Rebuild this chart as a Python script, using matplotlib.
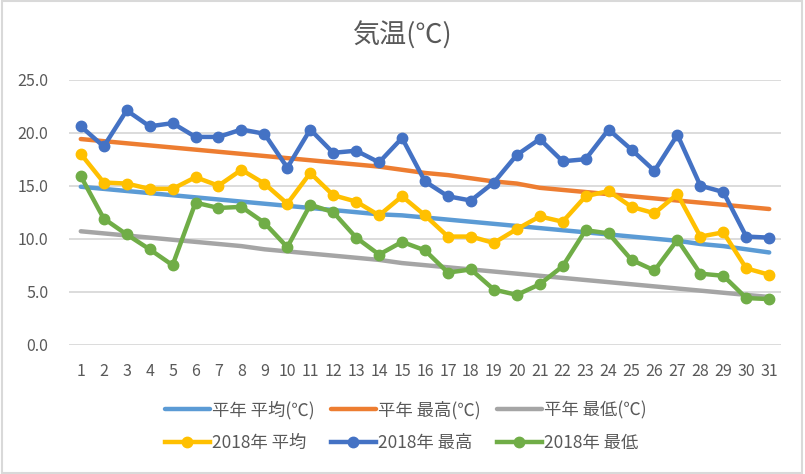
import matplotlib
matplotlib.use("Agg")
import matplotlib.pyplot as plt
from matplotlib.patches import Rectangle

plt.rcParams["font.family"] = ["Noto Sans CJK JP", "DejaVu Sans"]

days = list(range(1, 32))

normal_avg = [14.9, 14.7, 14.5, 14.3, 14.1, 13.9, 13.7, 13.5, 13.3, 13.1, 12.9, 12.7,
              12.5, 12.3, 12.2, 12.0, 11.8, 11.6, 11.4, 11.2, 11.0, 10.8, 10.6, 10.4,
              10.2, 10.0, 9.8, 9.5, 9.3, 9.0, 8.7]
normal_max = [19.4, 19.2, 19.0, 18.8, 18.6, 18.4, 18.2, 18.0, 17.8, 17.6, 17.4, 17.2,
              17.0, 16.8, 16.5, 16.2, 16.0, 15.7, 15.4, 15.2, 14.8, 14.6, 14.4, 14.2,
              14.0, 13.8, 13.6, 13.4, 13.2, 13.0, 12.8]
normal_min = [10.7, 10.5, 10.3, 10.1, 9.9, 9.7, 9.5, 9.3, 9.0, 8.8, 8.6, 8.4,
              8.2, 8.0, 7.7, 7.5, 7.3, 7.1, 6.9, 6.7, 6.5, 6.3, 6.1, 5.9,
              5.7, 5.5, 5.3, 5.1, 4.9, 4.7, 4.5]
avg_2018 = [18.0, 15.3, 15.2, 14.7, 14.7, 15.8, 15.0, 16.5, 15.2, 13.3, 16.2, 14.1,
            13.5, 12.2, 14.0, 12.2, 10.2, 10.2, 9.6, 10.9, 12.1, 11.6, 14.0, 14.5,
            13.0, 12.4, 14.2, 10.2, 10.6, 7.2, 6.6]
max_2018 = [20.6, 18.7, 22.1, 20.6, 20.9, 19.6, 19.6, 20.3, 19.9, 16.7, 20.3, 18.1,
            18.3, 17.2, 19.5, 15.4, 14.0, 13.6, 15.3, 17.9, 19.4, 17.3, 17.5, 20.3,
            18.4, 16.4, 19.8, 15.0, 14.4, 10.2, 10.1]
min_2018 = [15.9, 11.9, 10.4, 9.0, 7.5, 13.4, 12.9, 13.0, 11.5, 9.2, 13.2, 12.5,
            10.1, 8.5, 9.7, 8.9, 6.8, 7.1, 5.2, 4.7, 5.7, 7.4, 10.8, 10.5,
            8.0, 7.0, 9.9, 6.7, 6.5, 4.4, 4.3]

fig = plt.figure(figsize=(8.05, 4.74), dpi=100)
ax = fig.add_axes([0.0861, 0.2728, 0.8837, 0.5591])
txt = "#595959"

l1, = ax.plot(days, normal_avg, color="#5B9BD5", lw=3.2, solid_capstyle="round", label="平年 平均(℃)")
l2, = ax.plot(days, normal_max, color="#ED7D31", lw=3.2, solid_capstyle="round", label="平年 最高(℃)")
l3, = ax.plot(days, normal_min, color="#A5A5A5", lw=3.2, solid_capstyle="round", label="平年 最低(℃)")
l4, = ax.plot(days, avg_2018, color="#FFC000", lw=3.2, marker="o", ms=7.5, label="2018年 平均")
l5, = ax.plot(days, max_2018, color="#4472C4", lw=3.2, marker="o", ms=7.5, label="2018年 最高")
l6, = ax.plot(days, min_2018, color="#70AD47", lw=3.2, marker="o", ms=7.5, label="2018年 最低")

ax.set_xlim(0.5, 31.5)
ax.set_ylim(0, 25)
ax.set_yticks([0, 5, 10, 15, 20, 25])
ax.set_yticklabels([f"{v:.1f}" for v in [0, 5, 10, 15, 20, 25]])
ax.set_xticks(days)
ax.grid(axis="y", color="#D9D9D9", lw=1.3)
ax.set_axisbelow(True)
for s in ax.spines.values():
    s.set_visible(False)
ax.tick_params(length=0, labelsize=11.5, colors=txt)
ax.tick_params(axis="y", pad=15)
ax.tick_params(axis="x", pad=13)

fig.text(0.5, 0.925, "気温(℃)", ha="center", va="center", fontsize=19.5, color=txt)

order = [l1, l4, l2, l5, l3, l6]
leg = fig.legend(order, [h.get_label() for h in order],
                 ncol=3, loc="center", bbox_to_anchor=(0.504, 0.1), frameon=False,
                 fontsize=12.5, handlelength=2.6, handletextpad=0.15, columnspacing=0.9,
                 labelspacing=0.85)
for t in leg.get_texts():
    t.set_color(txt)

fig.patches.append(Rectangle((0.002, 0.003), 0.994, 0.994, transform=fig.transFigure,
                             fill=False, edgecolor="#D9D9D9", lw=1.5))

fig.savefig("out.png", dpi=100)
